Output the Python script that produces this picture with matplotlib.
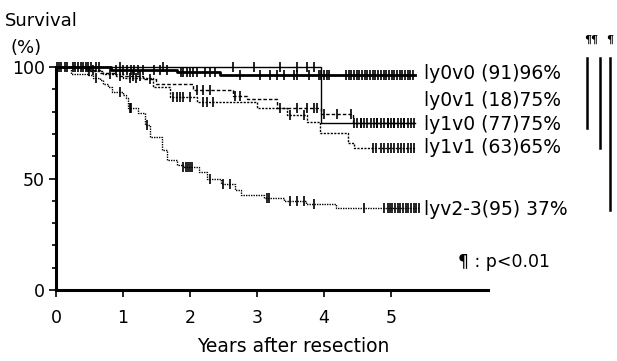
import numpy as np
import matplotlib
matplotlib.use("Agg")
import matplotlib.pyplot as plt
from matplotlib.lines import Line2D

# step curves: times (years) and survival (%) after each drop
t_ly0v0 = [0, 0.82, 1.8, 2.45, 5.36]
s_ly0v0 = [100, 98.7, 97.9, 96.2, 96.2]
t_ly0v1 = [0, 3.96, 5.36]
s_ly0v1 = [100, 75, 75]
t_ly1v0 = [0, 0.5, 0.65, 0.9, 1.3, 1.5, 2.05, 2.64, 2.85, 3.3, 3.95, 4.43, 5.36]
s_ly1v0 = [100, 98.7, 97.4, 96.1, 94.8, 92.5, 89.7, 86.8, 85.6, 81.5, 79, 75, 75]
t_ly1v1 = [0, 0.45, 0.7, 1.0, 1.45, 1.7, 2.1, 3.0, 3.45, 3.75, 3.94, 4.36, 4.45, 5.36]
s_ly1v1 = [100, 98.4, 96.8, 95.2, 91, 86.7, 84.4, 81.6, 78.5, 75.3, 70.4, 66, 63.8, 63.8]
t_lyv23 = [0, 0.23, 0.48, 0.55, 0.66, 0.7, 0.78, 0.83, 1.0, 1.05, 1.08, 1.23, 1.33,
           1.4, 1.58, 1.65, 1.8, 1.9, 2.13, 2.25, 2.46, 2.67, 2.76, 3.1, 3.4, 3.73,
           4.18, 5.43]
s_lyv23 = [100, 97, 96.3, 95, 94, 92.5, 91, 88.8, 87.3, 86, 81.6, 79.4, 74,
           68.6, 62.8, 58.3, 56, 55.2, 53, 50, 47.7, 44.7, 42.7, 41.3, 39.8, 38.6,
           36.8, 36.8]

# censored observations (years)
c_ly0v0 = [0.02, 0.05, 0.08, 0.14, 0.17, 0.25, 0.28, 0.33, 0.37, 0.4, 0.45, 0.48,
           0.52, 0.6, 0.64, 0.9, 1.0, 1.06, 1.12, 1.16, 1.22, 1.3, 1.46, 1.56, 1.66,
           1.86, 1.9, 1.95, 2.0, 2.05, 2.1, 2.22, 2.3, 2.38, 2.75, 3.05, 3.2, 3.3,
           3.4, 3.55, 3.6, 3.78, 3.92, 3.96, 4.0, 4.04, 4.08, 4.33, 4.37, 4.41,
           4.45, 4.49, 4.53, 4.57, 4.61, 4.65, 4.69, 4.73, 4.77, 4.81, 4.85, 4.89,
           4.93, 4.97, 5.01, 5.05, 5.09, 5.13, 5.17, 5.21, 5.25, 5.29, 5.33]
c_ly0v1 = [0.95, 1.6, 2.65, 2.95, 3.35, 3.6, 3.75, 3.85, 4.55, 4.8, 4.95, 5.05, 5.2]
c_ly1v0 = [0.55, 0.95, 1.15, 1.25, 1.4, 2.1, 2.2, 2.3, 2.68, 2.75, 3.35, 3.6, 3.75,
           3.85, 3.9, 4.0, 4.2, 4.4, 4.45, 4.5, 4.55, 4.6, 4.65, 4.7, 4.75, 4.8,
           4.85, 4.9, 4.95, 5.0, 5.05, 5.1, 5.15, 5.2, 5.25, 5.3, 5.34]
c_ly1v1 = [0.5, 0.8, 1.1, 1.2, 1.75, 1.8, 1.85, 1.9, 2.0, 2.2, 2.25, 2.35, 3.5,
           3.7, 4.73, 4.78, 4.85, 4.9, 4.95, 5.0, 5.05, 5.1, 5.15, 5.2, 5.25, 5.3, 5.34]
c_lyv23 = [0.6, 0.95, 1.1, 1.12, 1.36, 1.9, 1.94, 1.97, 2.0, 2.03, 2.3, 2.5, 2.6,
           3.15, 3.18, 3.5, 3.6, 3.7, 3.85, 4.6, 4.9, 4.95, 4.98, 5.02, 5.06, 5.1,
           5.14, 5.18, 5.22, 5.26, 5.3, 5.34, 5.38, 5.42]

labels = ["ly0v0 (91)96%", "ly0v1 (18)75%", "ly1v0 (77)75%", "ly1v1 (63)65%", "lyv2-3(95) 37%"]
label_y = [96.9, 84.8, 74.0, 63.7, 35.9]

curves = [
    (t_ly0v0, s_ly0v0, c_ly0v0, "-", 2.0),
    (t_ly0v1, s_ly0v1, c_ly0v1, "-", 1.0),
    (t_ly1v0, s_ly1v0, c_ly1v0, (0, (2.5, 1.5)), 1.0),
    (t_ly1v1, s_ly1v1, c_ly1v1, (0, (1.5, 1.0)), 1.0),
    (t_lyv23, s_lyv23, c_lyv23, (0, (1, 0.8)), 1.0),
]

fig = plt.figure(figsize=(6.17, 3.61), dpi=100)
ax = fig.add_axes([56 / 617, 1 - 290 / 361, 432 / 617, 223 / 361])

for t, s, cens, ls, lw in curves:
    ax.step(t, s, where="post", color="black", linestyle=ls, linewidth=lw, clip_on=False)
    cy = [s[np.searchsorted(t, c, side="right") - 1] for c in cens]
    ax.plot(cens, cy, linestyle="none", marker="|", markersize=7, markeredgewidth=1.2,
            color="black", clip_on=False)

ax.set_xlim(0, 6.45)
ax.set_ylim(0, 100)
ax.spines["top"].set_visible(False)
ax.spines["right"].set_visible(False)
ax.spines["left"].set_linewidth(2.2)
ax.spines["bottom"].set_linewidth(2.2)
ax.set_xticks([0, 1, 2, 3, 4, 5])
ax.set_yticks([0, 50, 100])
ax.set_yticks([10, 20, 30, 40, 60, 70, 80, 90], minor=True)
ax.tick_params(axis="both", which="major", length=5, width=1.2, labelsize=12.5, pad=3)
ax.tick_params(axis="y", which="minor", length=3, width=1.2)
ax.tick_params(axis="x", pad=9)

for lab, y in zip(labels, label_y):
    ax.text(5.5, y, lab, fontsize=13.5, va="center", ha="left")
ax.text(6.0, 12.6, "¶ : p<0.01", fontsize=12.5, va="center", ha="left")

fig.text(5 / 617, 1 - 21 / 361, "Survival", fontsize=13, va="center", ha="left")
fig.text(11 / 617, 1 - 48 / 361, "(%)", fontsize=13, va="center", ha="left")
fig.text(293 / 617, 1 - 346 / 361, "Years after resection", fontsize=13.5, va="center", ha="center")

# significance brackets
for x, yb in [(587, 128), (600, 148), (610, 210)]:
    fig.add_artist(Line2D([x / 617, x / 617], [1 - 58 / 361, 1 - yb / 361], color="black", linewidth=1.8))
fig.text(584 / 617, 1 - 39 / 361, "¶¶", fontsize=8, fontweight="bold", family="serif", va="center", ha="left")
fig.text(606 / 617, 1 - 39 / 361, "¶", fontsize=8, fontweight="bold", family="serif", va="center", ha="left")

fig.savefig("out.png", dpi=100)
